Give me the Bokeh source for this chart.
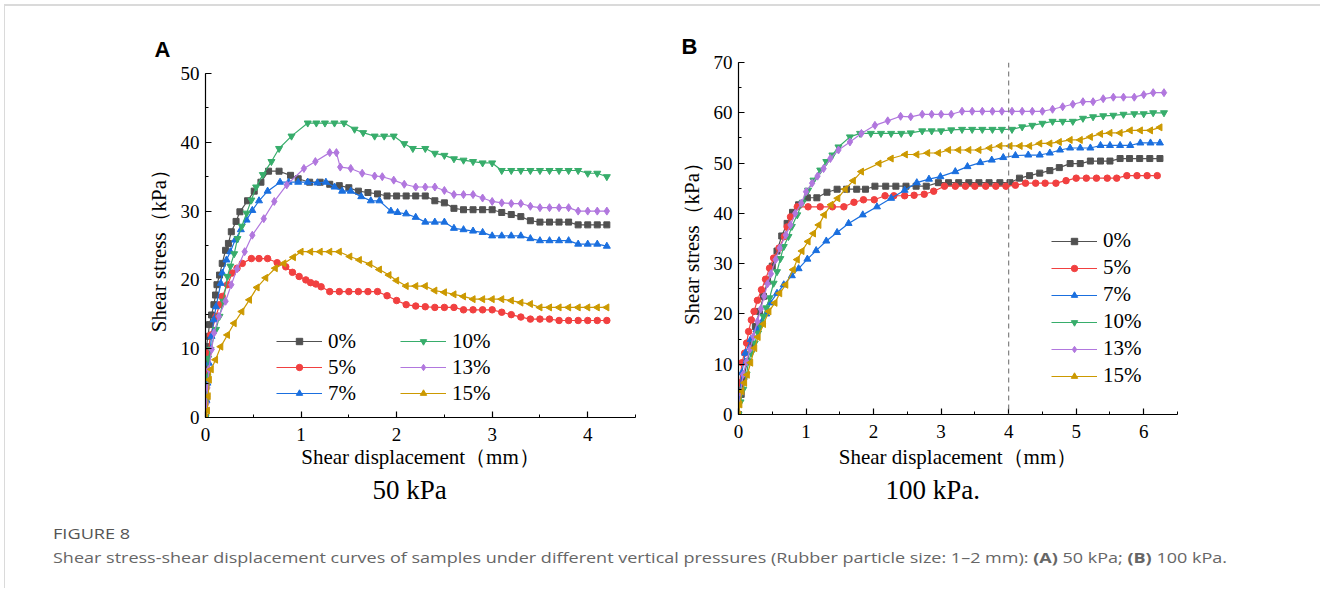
import math
from bokeh.plotting import figure
from bokeh.models import Legend, LegendItem, Span, Title, SingleIntervalTicker, Div, Range1d
from bokeh.layouts import row, column
from bokeh.embed import file_html
from bokeh.resources import INLINE

# ---------------- data: panel A (50 kPa) ----------------
A_x_0 = [0, 0.003, 0.005, 0.008, 0.01, 0.025, 0.042, 0.063, 0.088, 0.105, 0.12, 0.147, 0.175, 0.21, 0.24, 0.27, 0.32, 0.36, 0.44, 0.51, 0.58, 0.66, 0.77, 0.89, 0.97, 1.09, 1.2, 1.3, 1.4, 1.5, 1.6, 1.7, 1.8, 1.9, 2.0, 2.1, 2.2, 2.3, 2.4, 2.5, 2.6, 2.7, 2.8, 2.9, 3.0, 3.1, 3.2, 3.3, 3.4, 3.5, 3.6, 3.7, 3.8, 3.9, 4.0, 4.1, 4.2]
A_y_0 = [0, 2.5, 5.0, 7.5, 10.3, 11.8, 13.5, 14.9, 16.4, 17.8, 19.3, 20.7, 22.4, 24.3, 25.3, 27.0, 28.5, 29.9, 31.5, 32.9, 34.2, 35.8, 35.8, 35.2, 34.7, 34.2, 34.2, 33.9, 33.7, 33.4, 32.9, 32.7, 32.5, 32.2, 32.2, 32.2, 32.2, 32.2, 31.5, 31.2, 30.4, 30.2, 30.2, 30.2, 30.2, 29.8, 29.5, 29.2, 28.6, 28.4, 28.4, 28.4, 28.4, 28.0, 28.0, 28.0, 28.0]

A_x_5 = [0, 0.01, 0.02, 0.028, 0.053, 0.11, 0.147, 0.175, 0.23, 0.28, 0.33, 0.385, 0.48, 0.56, 0.65, 0.75, 0.84, 0.91, 0.98, 1.05, 1.10, 1.155, 1.21, 1.3, 1.4, 1.5, 1.6, 1.7, 1.8, 1.9, 2.0, 2.1, 2.2, 2.3, 2.4, 2.5, 2.6, 2.7, 2.8, 2.9, 3.0, 3.1, 3.2, 3.3, 3.4, 3.5, 3.6, 3.7, 3.8, 3.9, 4.0, 4.1, 4.2]
A_y_5 = [0, 3.0, 6.5, 9.4, 12.0, 14.7, 16.4, 17.6, 19.3, 21.0, 21.7, 22.4, 23.1, 23.1, 23.1, 22.5, 21.9, 21.1, 20.5, 20.0, 19.6, 19.4, 19.0, 18.3, 18.3, 18.3, 18.3, 18.3, 18.3, 17.7, 17.0, 16.4, 16.2, 16.1, 16.0, 16.0, 16.0, 15.65, 15.65, 15.65, 15.65, 15.3, 14.95, 14.6, 14.3, 14.3, 14.3, 14.1, 14.1, 14.1, 14.1, 14.1, 14.1]

A_x_7 = [0, 0.01, 0.02, 0.035, 0.063, 0.087, 0.11, 0.16, 0.175, 0.22, 0.26, 0.31, 0.37, 0.43, 0.49, 0.56, 0.65, 0.78, 0.87, 0.97, 1.07, 1.17, 1.26, 1.35, 1.43, 1.52, 1.63, 1.73, 1.82, 1.94, 2.01, 2.1, 2.2, 2.3, 2.4, 2.5, 2.6, 2.7, 2.8, 2.9, 3.0, 3.1, 3.2, 3.3, 3.4, 3.5, 3.6, 3.7, 3.8, 3.9, 4.0, 4.1, 4.2]
A_y_7 = [0, 2.5, 5.0, 7.9, 11.8, 14.2, 16.1, 19.5, 21.0, 22.9, 24.1, 25.8, 27.3, 28.7, 30.1, 31.5, 32.9, 34.2, 34.2, 34.2, 34.2, 34.1, 34.2, 33.5, 32.9, 32.9, 32.1, 31.5, 31.5, 30.0, 29.8, 29.6, 29.1, 28.4, 28.4, 28.4, 27.5, 27.3, 27.1, 26.9, 26.4, 26.4, 26.4, 26.4, 26.0, 25.7, 25.7, 25.7, 25.7, 25.2, 25.2, 25.2, 24.9]

A_x_10 = [0, 0.01, 0.02, 0.028, 0.053, 0.11, 0.147, 0.186, 0.23, 0.26, 0.30, 0.335, 0.38, 0.43, 0.48, 0.53, 0.60, 0.69, 0.77, 0.90, 1.07, 1.16, 1.25, 1.35, 1.45, 1.56, 1.65, 1.77, 1.87, 1.97, 2.08, 2.17, 2.3, 2.4, 2.5, 2.6, 2.7, 2.8, 2.9, 3.0, 3.1, 3.2, 3.3, 3.4, 3.5, 3.6, 3.7, 3.8, 3.9, 4.0, 4.1, 4.2]
A_y_10 = [0, 3.0, 6.0, 8.6, 9.9, 12.8, 14.7, 16.9, 20.5, 22.0, 23.8, 26.0, 27.8, 29.7, 31.6, 33.5, 35.3, 37.2, 39.1, 40.9, 42.8, 42.8, 42.8, 42.8, 42.8, 41.9, 41.4, 40.9, 40.9, 40.9, 39.8, 39.1, 39.1, 38.4, 38.1, 37.6, 37.4, 37.2, 37.0, 37.0, 35.9, 35.9, 35.9, 35.9, 35.9, 35.9, 35.9, 35.9, 35.9, 35.5, 35.5, 35.0]

A_x_13 = [0, 0.01, 0.02, 0.035, 0.065, 0.09, 0.14, 0.21, 0.27, 0.33, 0.41, 0.49, 0.61, 0.72, 0.85, 1.03, 1.15, 1.30, 1.37, 1.41, 1.52, 1.64, 1.77, 1.85, 1.97, 2.08, 2.2, 2.3, 2.4, 2.5, 2.6, 2.7, 2.8, 2.9, 3.0, 3.1, 3.2, 3.3, 3.4, 3.5, 3.6, 3.7, 3.8, 3.9, 4.0, 4.1, 4.2]
A_y_13 = [0, 2.0, 4.3, 7.0, 9.9, 12.3, 14.7, 16.9, 19.3, 21.6, 24.1, 26.5, 28.9, 31.4, 33.8, 36.2, 37.2, 38.5, 38.5, 36.4, 36.2, 35.5, 35.1, 35.0, 34.5, 33.9, 33.5, 33.5, 33.5, 33.0, 32.4, 32.4, 32.4, 31.9, 31.4, 31.2, 31.1, 31.1, 30.7, 30.5, 30.5, 30.5, 30.5, 30.0, 30.0, 30.0, 30.0]

A_x_15 = [0, 0.02, 0.028, 0.04, 0.06, 0.105, 0.16, 0.23, 0.30, 0.38, 0.46, 0.54, 0.63, 0.73, 0.82, 0.92, 1.0, 1.1, 1.2, 1.3, 1.4, 1.51, 1.61, 1.72, 1.82, 1.92, 2.0, 2.1, 2.2, 2.3, 2.4, 2.5, 2.6, 2.7, 2.8, 2.9, 3.0, 3.1, 3.2, 3.3, 3.4, 3.5, 3.6, 3.7, 3.8, 3.9, 4.0, 4.1, 4.2]
A_y_15 = [0, 1.0, 3.1, 5.5, 7.0, 8.4, 10.3, 12.0, 13.7, 15.4, 17.1, 18.9, 20.3, 21.7, 22.4, 23.3, 24.1, 24.1, 24.1, 24.1, 24.1, 23.4, 22.9, 22.3, 21.5, 20.7, 19.9, 19.1, 19.1, 19.1, 18.45, 18.2, 17.9, 17.6, 17.2, 17.2, 17.2, 17.2, 17.0, 16.7, 16.5, 16.0, 16.0, 16.0, 16.0, 16.0, 16.0, 16.0, 16.0]

# ---------------- data: panel B (100 kPa) ----------------
B_x_0 = [0, 0.04, 0.08, 0.13, 0.19, 0.25, 0.31, 0.37, 0.43, 0.50, 0.57, 0.64, 0.72, 0.80, 0.89, 1.02, 1.16, 1.31, 1.46, 1.60, 1.75, 1.88, 2.02, 2.18, 2.33, 2.48, 2.63, 2.78, 2.96, 3.11, 3.26, 3.41, 3.56, 3.71, 3.87, 4.02, 4.16, 4.31, 4.46, 4.61, 4.75, 4.91, 5.06, 5.21, 5.36, 5.5, 5.65, 5.79, 5.94, 6.09, 6.24]
B_y_0 = [0, 4.0, 7.5, 10.5, 14.0, 17.5, 20.5, 23.5, 26.5, 29.5, 32.5, 35.5, 38.0, 40.2, 41.7, 43.1, 43.1, 44.2, 44.8, 44.8, 44.8, 44.8, 45.4, 45.4, 45.4, 45.4, 45.4, 45.4, 46.1, 46.1, 46.1, 46.1, 46.1, 46.1, 46.1, 46.1, 47.0, 47.5, 48.0, 48.5, 49.1, 49.9, 49.9, 50.4, 50.4, 50.4, 50.9, 50.9, 50.9, 50.9, 50.9]

B_x_5 = [0, 0.02, 0.05, 0.09, 0.12, 0.15, 0.19, 0.23, 0.28, 0.34, 0.40, 0.46, 0.52, 0.60, 0.68, 0.72, 0.77, 0.87, 1.03, 1.21, 1.39, 1.56, 1.71, 1.85, 2.01, 2.17, 2.30, 2.46, 2.6, 2.75, 2.89, 3.05, 3.21, 3.36, 3.5, 3.66, 3.81, 3.96, 4.1, 4.25, 4.4, 4.54, 4.70, 4.85, 5.0, 5.15, 5.30, 5.46, 5.6, 5.75, 5.9, 6.05, 6.2]
B_y_5 = [0, 6.3, 10.3, 12.2, 14.2, 16.5, 18.8, 20.5, 22.7, 24.8, 26.9, 29.1, 31.1, 33.1, 35.4, 37.3, 39.3, 41.3, 41.3, 41.3, 41.3, 41.3, 42.2, 42.7, 42.7, 43.5, 43.5, 43.5, 43.6, 43.8, 44.4, 45.4, 45.4, 45.4, 45.4, 45.4, 45.4, 45.4, 45.6, 46.0, 46.0, 46.0, 46.0, 46.5, 47.0, 47.0, 47.0, 47.0, 47.0, 47.5, 47.5, 47.5, 47.5]

B_x_7 = [0, 0.02, 0.05, 0.10, 0.18, 0.27, 0.35, 0.41, 0.47, 0.57, 0.67, 0.79, 0.89, 1.02, 1.15, 1.30, 1.46, 1.63, 1.84, 2.05, 2.26, 2.46, 2.64, 2.82, 2.99, 3.21, 3.39, 3.58, 3.75, 3.92, 4.10, 4.29, 4.46, 4.61, 4.76, 4.91, 5.06, 5.21, 5.36, 5.5, 5.65, 5.8, 5.95, 6.1, 6.24]
B_y_7 = [0, 4.3, 8.3, 12.2, 14.9, 16.9, 18.5, 20.0, 22.2, 24.1, 25.8, 27.6, 29.0, 30.9, 32.6, 34.5, 36.2, 38.0, 39.7, 41.3, 43.0, 44.6, 46.1, 46.8, 47.3, 48.3, 49.3, 50.1, 50.6, 51.1, 51.5, 51.6, 51.6, 52.0, 52.6, 53.0, 53.0, 53.0, 53.5, 53.5, 53.5, 53.5, 54.0, 54.0, 54.0]

B_x_10 = [0, 0.03, 0.07, 0.12, 0.15, 0.19, 0.24, 0.29, 0.33, 0.37, 0.41, 0.46, 0.52, 0.57, 0.62, 0.67, 0.74, 0.79, 0.87, 0.95, 1.03, 1.11, 1.21, 1.30, 1.39, 1.48, 1.65, 1.80, 1.96, 2.11, 2.26, 2.41, 2.55, 2.72, 2.86, 3.0, 3.15, 3.31, 3.46, 3.61, 3.76, 3.9, 4.05, 4.2, 4.35, 4.5, 4.65, 4.8, 4.95, 5.10, 5.25, 5.40, 5.55, 5.70, 5.86, 6.0, 6.14, 6.30]
B_y_10 = [0, 2.5, 5.0, 8.0, 10.6, 12.2, 14.2, 16.2, 17.6, 19.5, 21.2, 23.2, 26.1, 28.4, 31.0, 33.4, 35.4, 37.4, 39.7, 42.2, 44.6, 46.6, 48.6, 50.3, 51.6, 53.2, 55.2, 55.9, 55.9, 55.9, 55.9, 55.9, 56.0, 56.4, 56.4, 56.4, 56.6, 56.7, 56.7, 56.7, 56.7, 56.7, 56.7, 57.2, 57.5, 57.9, 58.3, 58.3, 58.3, 58.9, 59.2, 59.4, 59.5, 59.7, 59.8, 59.8, 60.0, 60.0]

B_x_13 = [0, 0.03, 0.07, 0.12, 0.17, 0.22, 0.28, 0.33, 0.38, 0.43, 0.48, 0.55, 0.61, 0.70, 0.77, 0.84, 0.93, 1.0, 1.09, 1.17, 1.26, 1.36, 1.48, 1.65, 1.82, 2.02, 2.21, 2.40, 2.55, 2.72, 2.86, 3.0, 3.15, 3.31, 3.46, 3.61, 3.76, 3.9, 4.05, 4.2, 4.35, 4.5, 4.65, 4.80, 4.95, 5.10, 5.25, 5.40, 5.55, 5.70, 5.86, 6.0, 6.14, 6.30]
B_y_13 = [0, 4.3, 8.0, 10.5, 13.0, 15.5, 18.5, 21.0, 23.5, 26.0, 28.0, 30.8, 33.1, 35.7, 37.7, 40.0, 42.0, 44.3, 46.0, 47.4, 48.9, 50.9, 52.6, 54.2, 55.9, 57.5, 58.4, 59.3, 59.2, 59.7, 59.7, 59.7, 59.7, 60.3, 60.3, 60.3, 60.3, 60.3, 60.3, 60.3, 60.3, 60.3, 60.7, 61.2, 61.7, 62.2, 62.2, 62.8, 63.1, 63.1, 63.1, 63.6, 64.0, 64.0]

B_x_15 = [0, 0.02, 0.05, 0.09, 0.13, 0.18, 0.24, 0.29, 0.37, 0.45, 0.54, 0.61, 0.70, 0.81, 0.87, 0.94, 1.03, 1.11, 1.19, 1.27, 1.37, 1.47, 1.58, 1.70, 1.82, 2.08, 2.26, 2.47, 2.64, 2.80, 2.96, 3.11, 3.26, 3.41, 3.56, 3.72, 3.87, 4.02, 4.17, 4.31, 4.46, 4.61, 4.75, 4.91, 5.06, 5.21, 5.36, 5.50, 5.65, 5.80, 5.95, 6.1, 6.24]
B_y_15 = [0, 2.0, 4.6, 6.3, 7.9, 10.3, 13.2, 15.4, 18.0, 20.5, 22.2, 24.1, 25.8, 28.8, 30.8, 32.5, 34.4, 36.0, 37.7, 39.7, 41.7, 43.0, 44.8, 46.5, 48.3, 49.9, 50.9, 51.7, 51.7, 52.0, 52.0, 52.6, 52.6, 52.6, 52.6, 53.0, 53.4, 53.4, 53.4, 53.4, 53.9, 53.9, 54.2, 54.6, 54.6, 55.2, 55.8, 56.0, 56.0, 56.5, 56.5, 56.5, 57.1]

SERIES_LABELS = ["0%", "5%", "7%", "10%", "13%", "15%"]
COLORS = ["#515151", "#F14040", "#1A6FDF", "#37AD6B", "#B177DE", "#CC9900"]
MARKERS = ["square", "circle", "triangle", "inverted_triangle", "diamond", "triangle"]
ANGLES = [0, 0, 0, 0, 0, math.pi / 2]
SIZES = [6, 6.5, 7, 7, 8, 7]

SERIF = "Liberation Serif"


def make_panel(xs, ys, xmax, ymax, width, height, mb_left, mb_right, mb_top, mb_bottom,
               xlabel_standoff):
    p = figure(width=width, height=height, output_backend="svg", toolbar_location=None,
               x_range=Range1d(0, xmax), y_range=Range1d(0, ymax),
               min_border_left=mb_left, min_border_right=mb_right,
               min_border_top=mb_top, min_border_bottom=mb_bottom,
               background_fill_color="white", border_fill_color=None)
    p.frame_align = False
    p.outline_line_color = None
    p.grid.visible = False
    p.xaxis.ticker = SingleIntervalTicker(interval=1, num_minor_ticks=2)
    p.yaxis.ticker = SingleIntervalTicker(interval=10, num_minor_ticks=2)
    for ax in (p.xaxis[0], p.yaxis[0]):
        ax.axis_line_color = "black"
        ax.axis_line_width = 1.2
        ax.major_tick_line_color = "black"
        ax.major_tick_line_width = 1.2
        ax.minor_tick_line_color = "black"
        ax.minor_tick_line_width = 1.0
        ax.major_tick_in = 6
        ax.major_tick_out = 0
        ax.minor_tick_in = 3
        ax.minor_tick_out = 0
        ax.major_label_text_font = SERIF
        ax.major_label_text_font_size = "19px"
        ax.major_label_text_color = "black"
        ax.axis_label_text_font = SERIF
        ax.axis_label_text_font_size = "21px"
        ax.axis_label_text_font_style = "normal"
        ax.axis_label_text_color = "black"
    p.yaxis.major_label_standoff = 6
    p.xaxis.major_label_standoff = 10
    p.xaxis.axis_label = "Shear displacement（mm）"
    p.yaxis.axis_label = "Shear stress（kPa）"
    p.xaxis.axis_label_standoff = xlabel_standoff
    p.yaxis.axis_label_standoff = 7

    items = []
    for i, lab in enumerate(SERIES_LABELS):
        ln = p.line(xs[i], ys[i], line_color=COLORS[i], line_width=1.2)
        sc = p.scatter(xs[i], ys[i], marker=MARKERS[i], size=SIZES[i], angle=ANGLES[i],
                       fill_color=COLORS[i], line_color=COLORS[i])
        items.append(LegendItem(label=lab, renderers=[ln, sc]))
    return p, items


pA, itemsA = make_panel([A_x_0, A_x_5, A_x_7, A_x_10, A_x_13, A_x_15],
                        [A_y_0, A_y_5, A_y_7, A_y_10, A_y_13, A_y_15],
                        4.5, 50, 652, 505, 205, 17, 73, 87, 1)
pB, itemsB = make_panel([B_x_0, B_x_5, B_x_7, B_x_10, B_x_13, B_x_15],
                        [B_y_0, B_y_5, B_y_7, B_y_10, B_y_13, B_y_15],
                        6.5, 70, 658, 505, 86, 133, 62, 90, 4)


def style_legend(lg, row_h):
    lg.label_text_font = SERIF
    lg.label_text_font_size = "21px"
    lg.label_text_color = "black"
    lg.glyph_width = 46
    lg.glyph_height = 16
    lg.label_height = row_h
    lg.label_standoff = 6
    lg.spacing = 0
    lg.padding = 0
    lg.margin = 0
    lg.border_line_color = None
    lg.background_fill_alpha = 0


legA = Legend(items=itemsA, location=(71, 11), ncols=2)
style_legend(legA, 26)
legA.label_width = 72
pA.add_layout(legA)

legB = Legend(items=itemsB, location=(313, 25))
style_legend(legB, 27)
pB.add_layout(legB)

pB.add_layout(Span(location=4, dimension="height", line_color="#808080",
                   line_width=1.2, line_dash="5 4"))


def add_title(p, text, side, offset, standoff, font, size, style):
    p.add_layout(Title(text=text, align="left", offset=offset, standoff=standoff,
                       text_font=font, text_font_size=size, text_font_style=style,
                       text_color="black"), side)


add_title(pA, "A", "above", -51, 23, "Liberation Sans", "22px", "bold")
add_title(pB, "B", "above", -57, 7, "Liberation Sans", "22px", "bold")
add_title(pA, "50 kPa", "below", 167, 2, SERIF, "27px", "normal")
add_title(pB, "100 kPa.", "below", 147, 2, SERIF, "27px", "normal")

caption = Div(
    text=('<div style="transform:scaleX(1.21);transform-origin:0 0;'
          'font-family:\'Open Sans\',sans-serif;font-size:15px;line-height:18px;'
          'color:#555555;margin-top:14px;margin-left:48px;">FIGURE 8</div>'
          '<div style="transform:scaleX(1.2);transform-origin:0 0;'
          'font-family:\'Open Sans\',sans-serif;font-size:15px;line-height:18px;'
          'color:#666666;margin-top:6px;margin-left:48px;white-space:nowrap;">'
          'Shear stress-shear displacement curves of samples under different vertical pressures '
          '(Rubber particle size: 1–2 mm): <b>(A)</b> 50 kPa; <b>(B)</b> 100 kPa.</div>'),
    width=1310, height=73)

layout = column(row(pA, pB), caption,
                styles={"box-shadow": "inset 4px 4px 0 0 #ffffff, inset 5px 6px 0 0 #dadada"})

open("out.html", "w").write(file_html(layout, INLINE))
